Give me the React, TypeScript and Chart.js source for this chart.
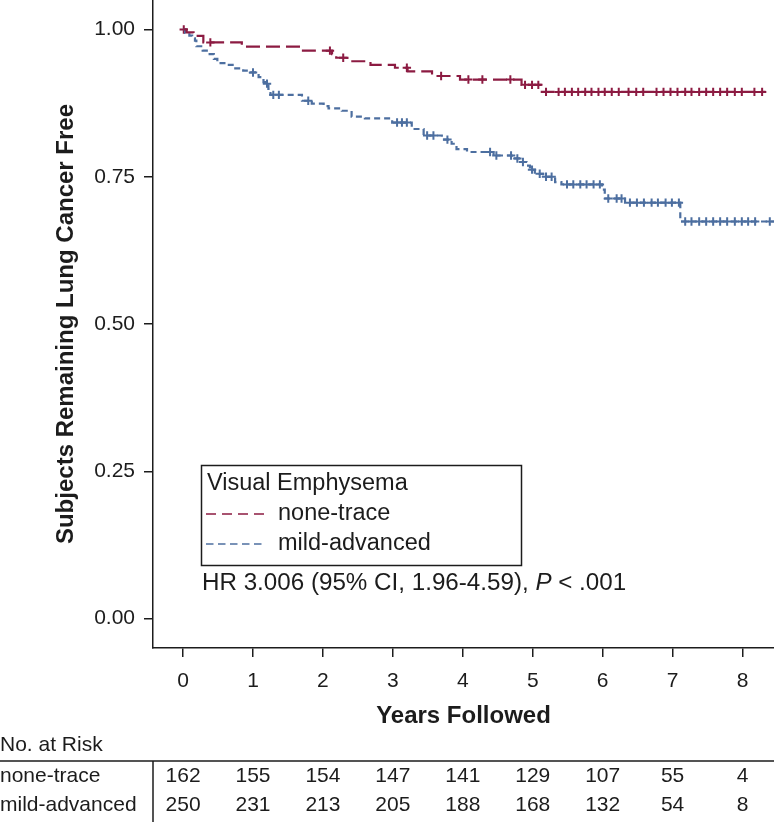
import React, { useEffect, useRef } from "react";
import { Chart, registerables } from "chart.js";

Chart.register(...registerables);

// ---------- data ----------
const YEAR_TICKS = [0, 1, 2, 3, 4, 5, 6, 7, 8];
const SURV_TICKS = [0, 0.25, 0.5, 0.75, 1.0];

// none-trace: Kaplan-Meier steps (time, survival)
const noneTraceTimes = [0, 0.05, 0.15, 0.29, 0.84, 1.69, 2.13, 2.19, 2.35, 2.68, 3.03, 3.21, 3.56, 3.96, 4.84, 5.13, 8.33];
const noneTraceSurv = [1.0, 0.995, 0.989, 0.978, 0.971, 0.964, 0.958, 0.952, 0.946, 0.94, 0.935, 0.929, 0.921, 0.915, 0.906, 0.894, 0.894];
const noneTraceCensored = [0.01, 0.39, 2.1, 2.29, 3.2, 3.69, 4.08, 4.28, 4.68, 4.89, 4.99, 5.08, 5.19, 5.37, 5.46, 5.56, 5.65, 5.75, 5.84, 5.94, 6.03, 6.13, 6.23, 6.37, 6.48, 6.58, 6.77, 6.87, 6.97, 7.07, 7.18, 7.27, 7.38, 7.48, 7.58, 7.68, 7.78, 7.89, 7.99, 8.17, 8.28];

// mild-advanced: Kaplan-Meier steps (time, survival)
const mildAdvTimes = [0, 0.03, 0.09, 0.13, 0.17, 0.19, 0.28, 0.38, 0.44, 0.49, 0.63, 0.73, 0.86, 0.96, 1.08, 1.15, 1.19, 1.22, 1.25, 1.7, 1.84, 2.01, 2.08, 2.27, 2.41, 2.6, 2.99, 3.27, 3.44, 3.7, 3.84, 3.91, 4.06, 4.44, 4.7, 4.82, 4.91, 4.96, 5.03, 5.15, 5.32, 5.41, 5.99, 6.03, 6.32, 7.11, 8.45];
const mildAdvSurv = [1.0, 0.994, 0.9895, 0.985, 0.981, 0.9715, 0.964, 0.958, 0.95, 0.943, 0.94, 0.934, 0.93, 0.927, 0.919, 0.9105, 0.908, 0.899, 0.889, 0.879, 0.874, 0.87, 0.866, 0.862, 0.852, 0.849, 0.842, 0.831, 0.82, 0.813, 0.806, 0.797, 0.792, 0.786, 0.781, 0.775, 0.769, 0.762, 0.755, 0.75, 0.741, 0.737, 0.728, 0.713, 0.706, 0.674, 0.674];
const mildAdvCensored = [1.0, 1.2, 1.29, 1.37, 1.79, 3.06, 3.13, 3.2, 3.49, 3.58, 3.78, 4.39, 4.48, 4.69, 4.78, 4.86, 4.99, 5.1, 5.19, 5.27, 5.49, 5.58, 5.68, 5.77, 5.87, 5.96, 6.08, 6.2, 6.27, 6.39, 6.49, 6.59, 6.7, 6.79, 6.9, 6.99, 7.09, 7.18, 7.27, 7.38, 7.48, 7.58, 7.68, 7.78, 7.89, 7.99, 8.08, 8.18, 8.39];

const RISK_LABELS = ["none-trace", "mild-advanced"];
const riskNoneTrace = [162, 155, 154, 147, 141, 129, 107, 55, 4];
const riskMildAdv = [250, 231, 213, 205, 188, 168, 132, 54, 8];

const RED = "#8c1b42";
const BLUE = "#4d6fa0";
const INK = "#1c1c1c";
const FONT = '"Liberation Sans", Arial, sans-serif';

function survAt(times: number[], surv: number[], t: number) {
  let v = surv[0];
  for (let i = 0; i < times.length; i++) if (times[i] <= t) v = surv[i];
  return v;
}

const annotations = {
  id: "kmAnnotations",
  afterDraw(chart: any) {
    const { ctx, scales } = chart;
    const xs = scales.x;
    ctx.save();
    ctx.fillStyle = INK;
    ctx.strokeStyle = INK;

    // y title
    ctx.save();
    ctx.translate(66, 324);
    ctx.rotate(-Math.PI / 2);
    ctx.font = `bold 24px ${FONT}`;
    ctx.textAlign = "center";
    ctx.textBaseline = "middle";
    ctx.fillText("Subjects Remaining Lung Cancer Free", 0, 0);
    ctx.restore();

    // x title
    ctx.font = `bold 24px ${FONT}`;
    ctx.textAlign = "center";
    ctx.textBaseline = "middle";
    ctx.fillText("Years Followed", (chart.chartArea.left + chart.chartArea.right) / 2, 716);

    // legend box
    ctx.lineWidth = 1.5;
    ctx.setLineDash([]);
    ctx.strokeRect(201.5, 465.5, 320, 100);
    ctx.font = `23.5px ${FONT}`;
    ctx.textAlign = "left";
    ctx.fillText("Visual Emphysema", 207, 484);
    ctx.lineWidth = 1.6;
    ctx.strokeStyle = RED;
    ctx.setLineDash([10, 6]);
    ctx.beginPath();
    ctx.moveTo(206, 514);
    ctx.lineTo(266, 514);
    ctx.stroke();
    ctx.strokeStyle = BLUE;
    ctx.setLineDash([7.5, 4.5]);
    ctx.beginPath();
    ctx.moveTo(206, 544);
    ctx.lineTo(266, 544);
    ctx.stroke();
    ctx.setLineDash([]);
    ctx.fillStyle = INK;
    ctx.fillText(RISK_LABELS[0], 278, 514);
    ctx.fillText(RISK_LABELS[1], 278, 544);

    // HR text
    let x = 202;
    const y = 583;
    const a = "HR 3.006 (95% CI, 1.96-4.59), ";
    ctx.font = `24.2px ${FONT}`;
    ctx.fillText(a, x, y);
    x += ctx.measureText(a).width;
    ctx.font = `italic 24.2px ${FONT}`;
    ctx.fillText("P", x, y);
    x += ctx.measureText("P").width;
    ctx.font = `24.2px ${FONT}`;
    ctx.fillText(" < .001", x, y);

    // number at risk table
    ctx.font = `21px ${FONT}`;
    ctx.textAlign = "left";
    ctx.fillText("No. at Risk", 0, 745);
    ctx.lineWidth = 1.5;
    ctx.strokeStyle = INK;
    ctx.beginPath();
    ctx.moveTo(0, 761);
    ctx.lineTo(774, 761);
    ctx.moveTo(153, 761);
    ctx.lineTo(153, 822);
    ctx.stroke();
    const rows = [riskNoneTrace, riskMildAdv];
    const rowY = [776, 805];
    rows.forEach((r, ri) => {
      ctx.textAlign = "left";
      ctx.fillText(RISK_LABELS[ri], 0, rowY[ri]);
      ctx.textAlign = "center";
      r.forEach((n, i) => ctx.fillText(String(n), xs.getPixelForValue(YEAR_TICKS[i]), rowY[ri]));
    });
    ctx.restore();
  },
};

export default function App() {
  const ref = useRef<HTMLCanvasElement | null>(null);
  useEffect(() => {
    if (!ref.current) return;
    const lineDs = (label: string, times: number[], surv: number[], color: string, dash: number[]) => ({
      type: "line" as const,
      label,
      data: times.map((t, i) => ({ x: t, y: surv[i] })),
      borderColor: color,
      borderWidth: 2.2,
      borderDash: dash,
      stepped: "before" as const,
      pointRadius: 0,
      fill: false,
      tension: 0,
    });
    const censorDs = (label: string, cens: number[], times: number[], surv: number[], color: string) => ({
      type: "scatter" as const,
      label,
      data: cens.map((t) => ({ x: t, y: survAt(times, surv, t) })),
      borderColor: color,
      backgroundColor: color,
      pointStyle: "cross",
      pointRadius: 4.2,
      borderWidth: 2,
      showLine: false,
    });
    const chart = new Chart(ref.current, {
      type: "line",
      data: {
        datasets: [
          lineDs("none-trace", noneTraceTimes, noneTraceSurv, RED, [14, 6]),
          lineDs("mild-advanced", mildAdvTimes, mildAdvSurv, BLUE, [6, 4]),
          censorDs("none-trace censored", noneTraceCensored, noneTraceTimes, noneTraceSurv, RED),
          censorDs("mild-advanced censored", mildAdvCensored, mildAdvTimes, mildAdvSurv, BLUE),
        ] as any,
      },
      options: {
        responsive: false,
        animation: false,
        devicePixelRatio: 1,
        layout: { padding: 0, autoPadding: false },
        plugins: { legend: { display: false }, tooltip: { enabled: false }, title: { display: false } },
        scales: {
          x: {
            type: "linear",
            min: -0.43,
            max: 8.45,
            afterBuildTicks: (s: any) => {
              s.ticks = YEAR_TICKS.map((v) => ({ value: v }));
            },
            afterFit: (s: any) => {
              s.height = 174;
              s.paddingLeft = 0;
              s.paddingRight = 0;
            },
            ticks: {
              font: { family: FONT, size: 21 },
              color: INK,
              padding: 12,
              maxRotation: 0,
              autoSkip: false,
              callback: (v: any) => String(v),
            },
            grid: { drawOnChartArea: false, drawTicks: true, tickLength: 9, color: INK, lineWidth: 1.5 },
            border: { display: true, color: INK, width: 1.5 },
          },
          y: {
            type: "linear",
            min: -0.05,
            max: 1.05,
            afterBuildTicks: (s: any) => {
              s.ticks = SURV_TICKS.map((v) => ({ value: v }));
            },
            afterFit: (s: any) => {
              s.width = 153;
              s.paddingTop = 0;
              s.paddingBottom = 0;
            },
            ticks: {
              font: { family: FONT, size: 21 },
              color: INK,
              padding: 9,
              callback: (v: any) => Number(v).toFixed(2),
            },
            grid: { drawOnChartArea: false, drawTicks: true, tickLength: 9, color: INK, lineWidth: 1.5 },
            border: { display: true, color: INK, width: 1.5 },
          },
        },
      },
      plugins: [annotations],
    });
    return () => chart.destroy();
  }, []);
  return (
    <div style={{ position: "absolute", left: 0, top: 0, width: 774, height: 822, background: "#fff" }}>
      <canvas ref={ref} width={774} height={822} style={{ display: "block", width: 774, height: 822 }} />
    </div>
  );
}
